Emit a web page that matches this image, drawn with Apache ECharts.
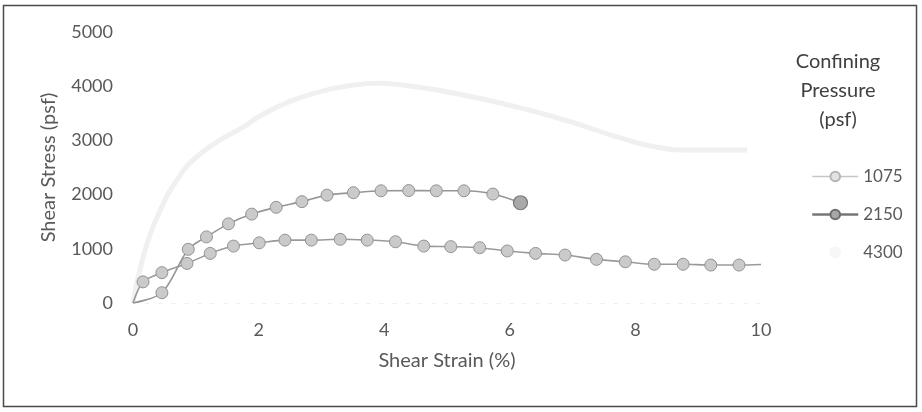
<!DOCTYPE html>
<html>
<head>
<meta charset="utf-8">
<script src="https://cdn.jsdelivr.net/npm/echarts@6/dist/echarts.min.js"></script>
<style>
html,body{margin:0;padding:0;background:#fff;}
#chart{width:922px;height:412px;}
</style>
</head>
<body>
<div id="chart"></div>
<script>
// ---- data ----
const seriesNames = ['1075', '2150', '4300'];
const xTickValues = [0, 2, 4, 6, 8, 10];
const yTickValues = [0, 1000, 2000, 3000, 4000, 5000];

const strain1075 = [0, 0.16, 0.46, 0.86, 1.23, 1.60, 2.01, 2.42, 2.84, 3.30, 3.73, 4.18, 4.63, 5.06, 5.52, 5.96, 6.41, 6.88, 7.38, 7.84, 8.30, 8.76, 9.20, 9.65, 10.0];
const stress1075 = [0, 390, 560, 730, 915, 1050, 1110, 1160, 1160, 1175, 1160, 1130, 1050, 1040, 1020, 960, 915, 885, 805, 760, 715, 715, 700, 700, 710];

const strain2150 = [0, 0.46, 0.88, 1.17, 1.52, 1.89, 2.28, 2.69, 3.09, 3.51, 3.95, 4.39, 4.83, 5.27, 5.73, 6.17];
const stress2150 = [0, 190, 990, 1220, 1460, 1640, 1765, 1870, 1990, 2035, 2070, 2075, 2070, 2070, 2010, 1850];

const strain4300 = [0, 0.2, 0.45, 0.70, 0.96, 1.35, 1.76, 2.02, 2.5, 2.98, 3.51, 3.88, 4.30, 5.10, 6.17, 6.96, 7.76, 8.29, 8.82, 9.78];
const stress4300 = [0, 1000, 1750, 2270, 2640, 2980, 3250, 3450, 3720, 3900, 4020, 4055, 4020, 3875, 3600, 3345, 3045, 2885, 2825, 2825];

// ---- build ----
const FONT = 'Lato';
function pts(xs, ys, opts) {
  return xs.map((x, i) => {
    const d = { value: [x, ys[i]] };
    if (opts && opts.noMarker && opts.noMarker.includes(i)) d.symbol = 'none';
    if (opts && opts.big && opts.big.includes(i)) {
      d.symbolSize = 14;
      d.itemStyle = { color: '#a9a9a9', borderColor: '#7a7a7a', borderWidth: 1.2 };
    }
    return d;
  });
}

const chart = echarts.init(document.getElementById('chart'), null, { renderer: 'canvas' });
const markerStyle = { color: '#cacaca', borderColor: '#939393', borderWidth: 1 };

chart.setOption({
  backgroundColor: '#ffffff',
  animation: false,
  textStyle: { fontFamily: FONT },
  grid: { left: 133, right: 161, top: 32, bottom: 109 },
  xAxis: {
    type: 'value', min: xTickValues[0], max: xTickValues[xTickValues.length - 1], interval: 2,
    name: 'Shear Strain (%)', nameLocation: 'middle', nameGap: 48,
    nameTextStyle: { fontFamily: FONT, fontSize: 20, color: '#595959' },
    axisLine: { show: true, lineStyle: { color: '#eeeeee', type: [3, 10] } },
    axisTick: { show: false },
    splitLine: { show: false },
    axisLabel: { fontFamily: FONT, fontSize: 18, color: '#595959', margin: 18 }
  },
  yAxis: {
    type: 'value', min: yTickValues[0], max: yTickValues[yTickValues.length - 1], interval: 1000,
    name: 'Shear Stress (psf)', nameLocation: 'middle', nameGap: 74,
    nameTextStyle: { fontFamily: FONT, fontSize: 20, color: '#595959' },
    axisLine: { show: false },
    axisTick: { show: false },
    splitLine: { show: false },
    axisLabel: { fontFamily: FONT, fontSize: 18, color: '#595959', margin: 20, formatter: v => String(v) }
  },
  legend: {
    orient: 'vertical', left: 806, top: 163, itemWidth: 46, itemHeight: 12, itemGap: 21,
    textStyle: { fontFamily: FONT, fontSize: 17, color: '#595959' },
    data: [
      { name: seriesNames[0], lineStyle: { color: '#c6c6c6', width: 1.5 }, itemStyle: { color: '#e2e2e2', borderColor: '#b5b5b5' } },
      { name: seriesNames[1], lineStyle: { color: '#777777', width: 2.5 }, itemStyle: { color: '#a8a8a8', borderColor: '#6e6e6e' } },
      { name: seriesNames[2], icon: 'circle', itemStyle: { color: '#f7f7f7', borderColor: '#f7f7f7' }, lineStyle: { color: '#fbfbfb', width: 1 } }
    ]
  },
  graphic: [
    { type: 'rect', shape: { x: 3.5, y: 5.5, width: 913, height: 401 }, style: { fill: 'none', stroke: '#4a4a4a', lineWidth: 1.5 }, silent: true },
    { type: 'text', x: 838, y: 47, style: { text: 'Confining\nPressure\n(psf)', fontFamily: FONT, fontSize: 20, lineHeight: 29, fill: '#404040', textAlign: 'center' }, silent: true }
  ],
  series: [
    {
      name: seriesNames[2], type: 'line', smooth: 0.5, symbol: 'none', z: 1,
      lineStyle: { color: '#f0f0f0', width: 5 },
      itemStyle: { color: '#f0f0f0' },
      data: pts(strain4300, stress4300)
    },
    {
      name: seriesNames[0], type: 'line', smooth: 0.3, symbol: 'circle', symbolSize: 12, z: 3,
      lineStyle: { color: '#9a9a9a', width: 1.6 },
      itemStyle: markerStyle,
      data: pts(strain1075, stress1075, { noMarker: [0, strain1075.length - 1] })
    },
    {
      name: seriesNames[1], type: 'line', smooth: 0.3, symbol: 'circle', symbolSize: 12, z: 3,
      lineStyle: { color: '#969696', width: 1.6 },
      itemStyle: markerStyle,
      data: pts(strain2150, stress2150, { noMarker: [0], big: [strain2150.length - 1] })
    }
  ]
});
</script>
</body>
</html>
